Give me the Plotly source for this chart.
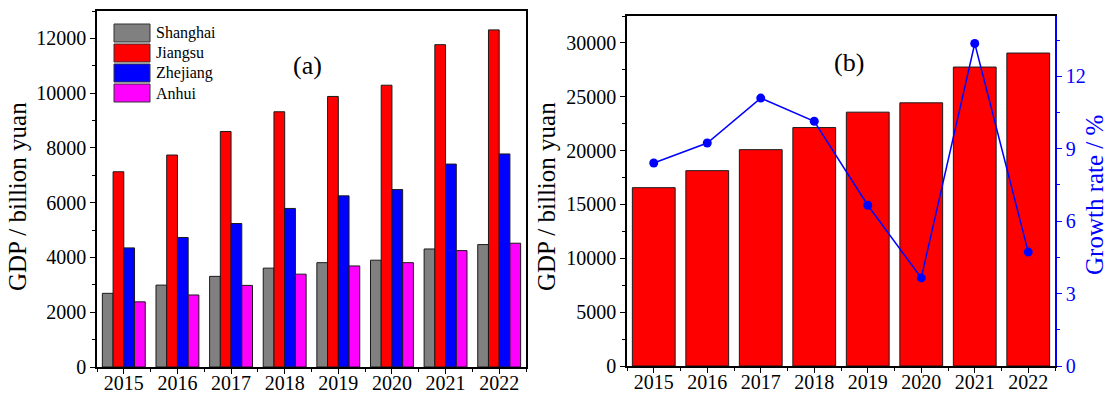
import plotly.graph_objects as go

# Regional GDP (billion yuan), 2015-2022
years = [2015, 2016, 2017, 2018, 2019, 2020, 2021, 2022]
regions = ["Shanghai", "Jiangsu", "Zhejiang", "Anhui"]
shanghai = [2690, 2990, 3310, 3610, 3810, 3900, 4310, 4470]
jiangsu = [7130, 7740, 8600, 9320, 9880, 10290, 11770, 12310]
zhejiang = [4350, 4730, 5240, 5790, 6250, 6480, 7410, 7780]
anhui = [2380, 2630, 2980, 3390, 3690, 3810, 4250, 4520]
total = [16560, 18140, 20090, 22140, 23570, 24440, 27760, 29060]
growth = [8.41, 9.24, 11.10, 10.14, 6.66, 3.65, 13.36, 4.72]

colors = ["#808080", "#ff0000", "#0000ff", "#ff00ff"]
W, H = 1111, 396
FONT = "Liberation Serif, Times New Roman, serif"
BLUE = "#0000ff"


def px(x):
    return x / W


def py(y):
    return 1 - y / H


fig = go.Figure()

for name, vals, col in zip(regions, [shanghai, jiangsu, zhejiang, anhui], colors):
    fig.add_trace(go.Bar(
        x=years, y=vals, name=name, xaxis="x", yaxis="y",
        marker=dict(color=col, line=dict(color="#1a1a1a", width=1)),
        showlegend=False,
    ))

fig.add_trace(go.Bar(
    x=years, y=total, name="Total", xaxis="x2", yaxis="y2",
    marker=dict(color="#ff0000", line=dict(color="#1a1a1a", width=1)),
    showlegend=False,
))
fig.add_trace(go.Scatter(
    x=years, y=growth, name="Growth rate", xaxis="x2", yaxis="y3",
    mode="lines+markers",
    line=dict(color=BLUE, width=1.5),
    marker=dict(color=BLUE, size=9),
    showlegend=False,
))

tickfont = dict(family=FONT, size=20, color="black")


def xaxis_style(domain, anchor):
    return dict(
        domain=domain, anchor=anchor, range=[2014.5, 2022.5],
        tick0=2015, dtick=1, tickformat="d",
        ticks="outside", ticklen=5, tickwidth=1.2, tickcolor="black",
        minor=dict(dtick=0.5, ticks="outside", ticklen=3, tickwidth=1.2, tickcolor="black"),
        showline=True, linecolor="black", linewidth=1.5, mirror=True,
        showgrid=False, zeroline=False, tickfont=tickfont, automargin=False,
        ticklabelstandoff=-8,
    )


def yaxis_style(domain, anchor, rng, dtick, mirror):
    return dict(
        domain=domain, anchor=anchor, range=rng,
        tick0=0, dtick=dtick, tickformat="d",
        ticks="outside", ticklen=5, tickwidth=1.2, tickcolor="black",
        minor=dict(dtick=dtick / 2, ticks="outside", ticklen=3, tickwidth=1.2, tickcolor="black"),
        showline=True, linecolor="black", linewidth=1.5, mirror=mirror,
        showgrid=False, zeroline=False, tickfont=tickfont, automargin=False,
    )


left_x = [px(97), px(526)]
left_y = [py(367), py(11)]
right_x = [px(627), px(1055)]
right_y = [py(366), py(16)]

fig.update_layout(
    width=W, height=H,
    margin=dict(l=0, r=0, t=0, b=0),
    paper_bgcolor="white", plot_bgcolor="white",
    barmode="group", bargap=0.2, bargroupgap=0,
    font=dict(family=FONT, color="black"),
    xaxis=xaxis_style(left_x, "y"),
    yaxis=yaxis_style(left_y, "x", [0, 13000], 2000, True),
    xaxis2=xaxis_style(right_x, "y2"),
    yaxis2=yaxis_style(right_y, "x2", [0, 32500], 5000, False),
    yaxis3=dict(
        overlaying="y2", anchor="x2", side="right", range=[0, 14.5],
        tick0=0, dtick=3, tickformat="d",
        ticks="outside", ticklen=5, tickwidth=1.2, tickcolor=BLUE,
        minor=dict(dtick=1.5, ticks="outside", ticklen=3, tickwidth=1.2, tickcolor=BLUE),
        showline=True, linecolor=BLUE, linewidth=1.5,
        showgrid=False, zeroline=False,
        tickfont=dict(family=FONT, size=20, color=BLUE), automargin=False,
    ),
)

annotations = [
    dict(text="GDP / billion yuan", x=px(18), y=py(197), textangle=-90,
         font=dict(family=FONT, size=25, color="black")),
    dict(text="GDP / billion yuan", x=px(547), y=py(197), textangle=-90,
         font=dict(family=FONT, size=25, color="black")),
    dict(text="Growth rate / %", x=px(1094), y=py(195), textangle=-90,
         font=dict(family=FONT, size=25, color=BLUE)),
    dict(text="(a)", x=px(307), y=py(65), font=dict(family=FONT, size=26, color="black")),
    dict(text="(b)", x=px(849), y=py(63), font=dict(family=FONT, size=26, color="black")),
]
for a in annotations:
    a.update(xref="paper", yref="paper", xanchor="center", yanchor="middle", showarrow=False)

# Legend drawn as swatches with labels in the upper left of panel (a)
shapes = []
box_left, box_right, box_top, box_h, step = 114, 150, 24, 18, 20
for i, (name, col) in enumerate(zip(regions, colors)):
    top = box_top + i * step
    shapes.append(dict(
        type="rect", xref="paper", yref="paper",
        x0=px(box_left), x1=px(box_right), y0=py(top + box_h), y1=py(top),
        fillcolor=col, line=dict(color="#333333", width=1),
    ))
    annotations.append(dict(
        text=name, xref="paper", yref="paper", x=px(154), y=py(top + box_h / 2),
        xanchor="left", yanchor="middle", showarrow=False,
        font=dict(family=FONT, size=16, color="black"),
    ))

fig.update_layout(annotations=annotations, shapes=shapes)

fig.write_html("out.html")
